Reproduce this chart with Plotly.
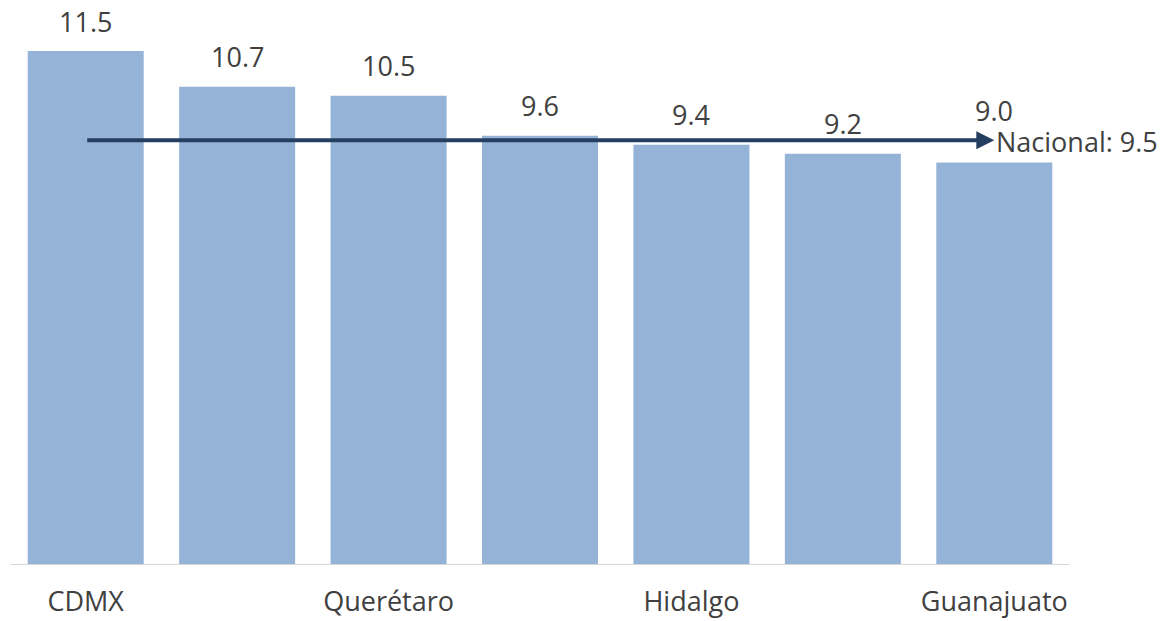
import plotly.graph_objects as go

# Entidades (solo se rotulan algunas en el eje) y valores
etiquetas = ["CDMX", "", "Querétaro", "", "Hidalgo", "", "Guanajuato"]
valores = [11.5, 10.7, 10.5, 9.6, 9.4, 9.2, 9.0]
nacional = 9.5

posiciones = list(range(len(valores)))
texto_color = "#404040"
fuente = "Open Sans"
tam = 27

fig = go.Figure()
fig.add_trace(go.Bar(
    x=posiciones,
    y=valores,
    marker=dict(color="#95b3d7", line=dict(width=0)),
    width=0.766,
    hoverinfo="skip",
))

# Etiquetas de valor sobre cada barra; la última se eleva para no chocar
# con el rótulo del promedio nacional
for xi, v in zip(posiciones, valores):
    alza = 52 if xi == posiciones[-1] else 30
    fig.add_annotation(
        x=xi, y=v, text=f"{v:.1f}", showarrow=False,
        yanchor="middle", yshift=alza,
        font=dict(family=fuente, size=tam, color=texto_color),
    )

# Flecha del promedio nacional
fig.add_annotation(
    x=posiciones[-1], y=nacional, ax=posiciones[0], ay=nacional,
    xref="x", yref="y", axref="x", ayref="y",
    showarrow=True, arrowhead=2, arrowsize=0.9, arrowwidth=4,
    arrowcolor="#243f60", text="", standoff=0,
)
fig.add_annotation(
    x=posiciones[-1], y=nacional, text=f"Nacional: {nacional}",
    showarrow=False, xanchor="left", yanchor="middle", xshift=0, yshift=-1,
    font=dict(family=fuente, size=tam, color=texto_color),
)

fig.update_layout(
    width=1167, height=621,
    margin=dict(l=10, r=97, t=10, b=57),
    paper_bgcolor="white", plot_bgcolor="white",
    showlegend=False,
    xaxis=dict(
        range=[-0.5, len(valores) - 0.5],
        tickvals=[p for p, e in zip(posiciones, etiquetas) if e],
        ticktext=[e for e in etiquetas if e],
        showline=True, linecolor="#d9d9d9", linewidth=1,
        showgrid=False, zeroline=False, ticks="",
        automargin=False, ticklabelstandoff=14,
        tickfont=dict(family=fuente, size=tam, color=texto_color),
    ),
    yaxis=dict(
        range=[0, 12.42], visible=False, showgrid=False, zeroline=False,
    ),
)

fig.write_html("out.html")
